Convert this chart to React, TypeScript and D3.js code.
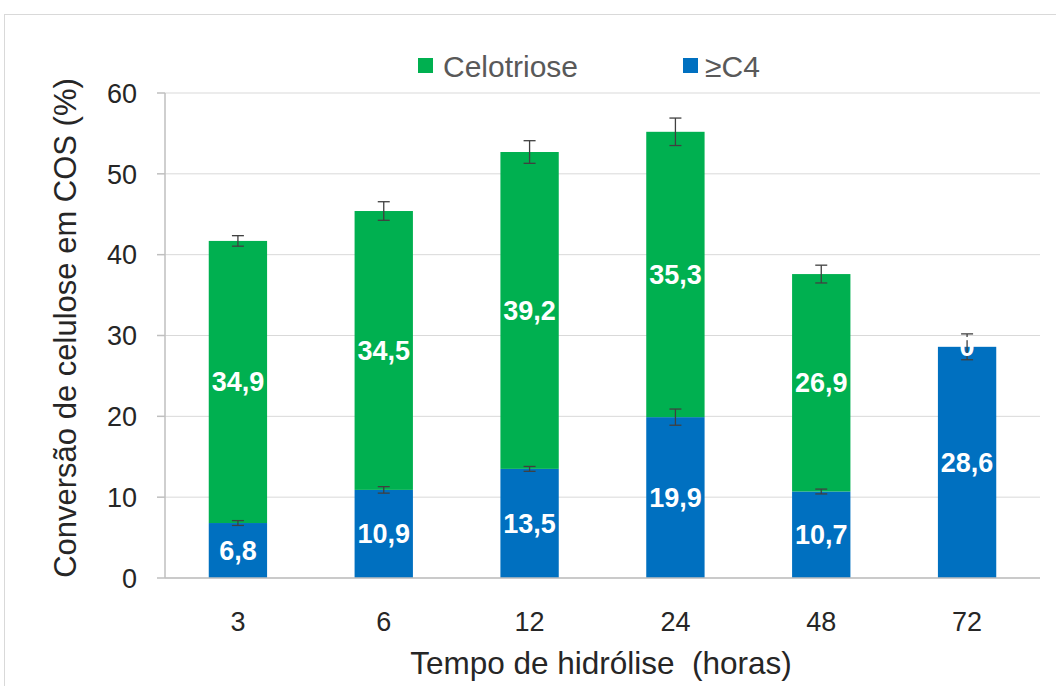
import React from "react";
import * as d3 from "d3";

const categories = ["3", "6", "12", "24", "48", "72"];
const c4Values = [6.8, 10.9, 13.5, 19.9, 10.7, 28.6];
const celotrioseValues = [34.9, 34.5, 39.2, 35.3, 26.9, 0];
const c4Errors = [0.3, 0.4, 0.3, 1.0, 0.3, 0];
const totalErrors = [0.65, 1.15, 1.4, 1.7, 1.1, 1.6];
const yTicks = [0, 10, 20, 30, 40, 50, 60];
const legendLabels = ["Celotriose", "≥C4"];

const GREEN = "#00B050";
const BLUE = "#0070C0";

export default function App() {
  const W = 1056, H = 686;
  const left = 165, right = 1040, top = 93, bottom = 578;
  const x = d3.scaleBand().domain(categories).range([left, right]).paddingInner(0.6).paddingOuter(0.3);
  const y = d3.scaleLinear().domain([0, 60]).range([bottom, top]);
  const bw = x.bandwidth();
  const fmt = (v: number) => (v === 0 ? "0" : v.toFixed(1).replace(".", ","));
  const font = "Arial, 'Liberation Sans', sans-serif";

  const errBar = (cx: number, v: number, e: number, key: string) => {
    if (e <= 0) return null;
    const y1 = y(v + e), y2 = y(v - e);
    return (
      <g key={key} stroke="#404040" strokeWidth={1.3}>
        <line x1={cx} x2={cx} y1={y1} y2={y2} />
        <line x1={cx - 6} x2={cx + 6} y1={y1} y2={y1} />
        <line x1={cx - 6} x2={cx + 6} y1={y2} y2={y2} />
      </g>
    );
  };

  return (
    <svg width={W} height={H} style={{ position: "absolute", left: 0, top: 0 }} fontFamily={font}>
      <rect x={0} y={0} width={W} height={H} fill="#fff" />
      <rect x={4.5} y={14.5} width={W + 10} height={H + 10} fill="none" stroke="#d9d9d9" strokeWidth={1} />
      {yTicks.map((t) => (
        <line key={"g" + t} x1={left} x2={right} y1={y(t)} y2={y(t)} stroke="#d9d9d9" strokeWidth={1} />
      ))}
      {categories.map((c, i) => {
        const x0 = x(c)!;
        const b = c4Values[i];
        const g = celotrioseValues[i];
        return (
          <g key={"b" + c}>
            <rect x={x0} y={y(b)} width={bw} height={y(0) - y(b)} fill={BLUE} />
            {g > 0 && <rect x={x0} y={y(b + g)} width={bw} height={y(b) - y(b + g)} fill={GREEN} />}
          </g>
        );
      })}
      {categories.map((c, i) => {
        const cx = x(c)! + bw / 2;
        return (
          <g key={"e" + c}>
            {celotrioseValues[i] > 0 && errBar(cx, c4Values[i], c4Errors[i], "eb" + c)}
            {errBar(cx, c4Values[i] + celotrioseValues[i], totalErrors[i], "et" + c)}
          </g>
        );
      })}
      {categories.map((c, i) => {
        const cx = x(c)! + bw / 2;
        const b = c4Values[i];
        const g = celotrioseValues[i];
        return (
          <g key={"l" + c} fill="#fff" fontWeight="bold" fontSize={27} textAnchor="middle">
            <text x={cx} y={y(b / 2)} dy="0.35em">{fmt(b)}</text>
            <text x={cx} y={y(b + g / 2)} dy="0.35em">{fmt(g)}</text>
          </g>
        );
      })}
      <line x1={left} x2={left} y1={top} y2={bottom} stroke="#bfbfbf" strokeWidth={1.5} />
      <line x1={left} x2={right} y1={bottom} y2={bottom} stroke="#bfbfbf" strokeWidth={1.5} />
      {yTicks.map((t) => (
        <g key={"t" + t}>
          <line x1={left - 8} x2={left} y1={y(t)} y2={y(t)} stroke="#bfbfbf" strokeWidth={1.5} />
          <text x={137} y={y(t)} dy="0.36em" textAnchor="end" fontSize={27} fill="#262626">{t}</text>
        </g>
      ))}
      {categories.map((c) => (
        <text key={"x" + c} x={x(c)! + bw / 2} y={621} dy="0.36em" textAnchor="middle" fontSize={27} fill="#262626">{c}</text>
      ))}
      <text x={601} y={663} dy="0.36em" textAnchor="middle" fontSize={31.5} fill="#262626" style={{ whiteSpace: "pre" }}>
        {"Tempo de hidrólise  (horas)"}
      </text>
      <text transform={`translate(65, 328) rotate(-90)`} dy="0.36em" textAnchor="middle" fontSize={31} fill="#262626">
        Conversão de celulose em COS (%)
      </text>
      <rect x={418} y={58} width={15} height={15} fill={GREEN} />
      <text x={443} y={66} dy="0.36em" fontSize={30} fill="#595959">{legendLabels[0]}</text>
      <rect x={683} y={58} width={15} height={15} fill={BLUE} />
      <text x={705} y={66} dy="0.36em" fontSize={30} fill="#595959">{legendLabels[1]}</text>
    </svg>
  );
}
